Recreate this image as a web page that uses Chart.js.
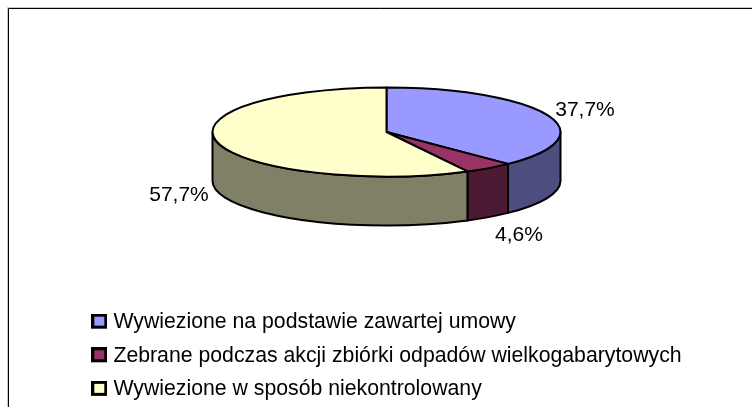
<!DOCTYPE html>
<html>
<head>
<meta charset="utf-8">
<style>
  html, body { margin: 0; padding: 0; background: #fff; overflow: hidden; }
  #wrap { position: relative; width: 752px; height: 407px; }
</style>
<script src="https://cdn.jsdelivr.net/npm/chart.js@4"></script>
</head>
<body>
<div id="wrap"><canvas id="chart" width="752" height="407"></canvas></div>
<script>
var categories = [
    'Wywiezione na podstawie zawartej umowy',
    'Zebrane podczas akcji zbiórki odpadów wielkogabarytowych',
    'Wywiezione w sposób niekontrolowany'
];
var values = [37.7, 4.6, 57.7];
var topColors = ['#9999FF', '#993366', '#FFFFCC'];
var sideColors = ['#4D4D80', '#4D1A33', '#808066'];

// Legend swatch with a heavy black outline, used as the legend's point style
// (canvas is taller than the box so the box sits a bit above the row centre)
function makeSwatch(color) {
    var c = document.createElement('canvas');
    c.width = 16;
    c.height = 17;
    var g = c.getContext('2d');
    g.fillStyle = '#000';
    g.fillRect(0, 0, 16, 15);
    g.fillStyle = color;
    g.fillRect(3, 3, 10, 9);
    return c;
}

// Frame of the chart object: only left and top edges fall inside the picture
var framePlugin = {
    id: 'frame',
    beforeDraw: function(chart) {
        var ctx = chart.ctx;
        ctx.save();
        ctx.strokeStyle = '#c8c8c8';
        ctx.lineWidth = 1;
        ctx.beginPath();
        ctx.moveTo(7.5, 407);
        ctx.lineTo(7.5, 7.5);
        ctx.lineTo(752, 7.5);
        ctx.stroke();
        ctx.strokeStyle = '#000';
        ctx.beginPath();
        ctx.moveTo(8.5, 407);
        ctx.lineTo(8.5, 8.5);
        ctx.lineTo(752, 8.5);
        ctx.stroke();
        ctx.restore();
    }
};

// Flattened pie with a side wall, built from the angles of the library's arcs
var pie3dPlugin = {
    id: 'pie3d',
    beforeDatasetsDraw: function(chart, args, opts) {
        var ctx = chart.ctx;
        var arcs = chart.getDatasetMeta(0).data;
        var cx = arcs[0].x;
        var cy = opts.centerY;
        var rx = opts.radiusX;
        var ry = opts.radiusY;
        var depth = opts.depth;

        ctx.save();
        ctx.lineWidth = 2;
        ctx.strokeStyle = '#000';
        ctx.lineJoin = 'round';

        // side wall: only the part of each slice on the front half
        arcs.forEach(function(arc, i) {
            var a = Math.max(arc.startAngle, 0);
            var b = Math.min(arc.endAngle, Math.PI);
            if (b <= a) return;
            ctx.beginPath();
            ctx.ellipse(cx, cy, rx, ry, 0, a, b);
            ctx.ellipse(cx, cy + depth, rx, ry, 0, b, a, true);
            ctx.closePath();
            ctx.fillStyle = sideColors[i];
            ctx.fill();
            ctx.stroke();
        });

        // top face
        arcs.forEach(function(arc, i) {
            ctx.beginPath();
            ctx.moveTo(cx, cy);
            ctx.ellipse(cx, cy, rx, ry, 0, arc.startAngle, arc.endAngle);
            ctx.closePath();
            ctx.fillStyle = topColors[i];
            ctx.fill();
            ctx.stroke();
        });

        // value labels
        ctx.fillStyle = '#000';
        ctx.font = opts.font;
        ctx.textAlign = 'center';
        ctx.textBaseline = 'middle';
        values.forEach(function(v, i) {
            var p = opts.labelAt[i];
            ctx.fillText(v.toFixed(1).replace('.', ',') + '%', p[0], p[1]);
        });
        ctx.restore();
        return false;
    }
};

new Chart(document.getElementById('chart').getContext('2d'), {
    type: 'pie',
    data: {
        labels: categories,
        datasets: [{
            data: values,
            backgroundColor: topColors,
            borderColor: '#000',
            borderWidth: 2
        }]
    },
    plugins: [framePlugin, pie3dPlugin],
    options: {
        responsive: false,
        animation: false,
        layout: { padding: { left: 83.45, right: 62.45, top: 0, bottom: -3 } },
        plugins: {
            tooltip: { enabled: false },
            legend: {
                position: 'bottom',
                align: 'start',
                labels: {
                    color: '#000',
                    font: { family: '"Liberation Sans", Arial, sans-serif', size: 21.25 },
                    usePointStyle: true,
                    pointStyleWidth: 7,
                    boxHeight: 12,
                    padding: 12.35,
                    generateLabels: function(chart) {
                        return categories.map(function(name, i) {
                            return {
                                text: name,
                                fontColor: '#000',
                                pointStyle: makeSwatch(topColors[i]),
                                hidden: false,
                                index: i
                            };
                        });
                    }
                }
            },
            pie3d: {
                centerY: 132,
                radiusX: 174,
                radiusY: 44.5,
                depth: 49,
                font: '21px "Liberation Sans", Arial, sans-serif',
                labelAt: [[585, 110], [519, 235], [179, 195]]
            }
        }
    }
});
</script>
</body>
</html>
